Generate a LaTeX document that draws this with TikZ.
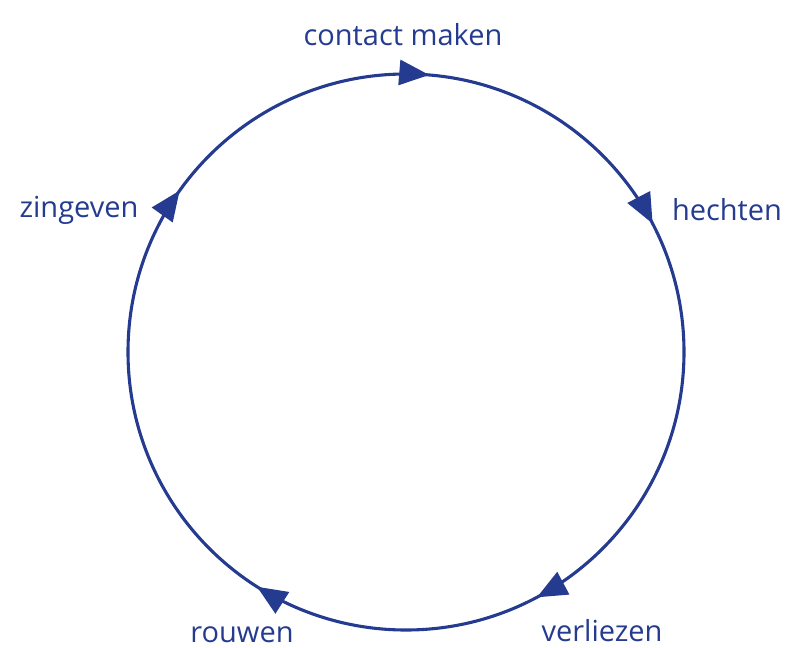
\documentclass[tikz,border=0pt]{standalone}
\usepackage{fontspec}
\setmainfont{Open Sans}
\usetikzlibrary{arrows.meta,decorations.markings}
\definecolor{cycleblue}{RGB}{36,59,143}
\begin{document}
\begin{tikzpicture}[x=1pt,y=-1pt,
  lbl/.style={text=cycleblue,font=\fontsize{29}{34}\selectfont,anchor=base,inner sep=0pt},
  tipmark/.style={postaction={decorate},decoration={markings,
    mark=at position 0.0133 with {\arrow{Triangle[length=30pt,width=25pt]}},
    mark=at position 0.1736 with {\arrow{Triangle[length=30pt,width=25pt]}},
    mark=at position 0.422 with {\arrow{Triangle[length=30pt,width=25pt]}},
    mark=at position 0.59 with {\arrow{Triangle[length=30pt,width=25pt]}},
    mark=at position 0.8486 with {\arrow{Triangle[length=30pt,width=25pt]}}}}]
\useasboundingbox (0,0) rectangle (785,648);
\coordinate (c) at (406,352);
\coordinate (top) at (406,74);
\draw[cycleblue,line width=3.1pt,tipmark] (top) arc[start angle=90,end angle=-270,radius=278pt];
\node[lbl] (contact) at (403,45) {contact maken};
\node[lbl] (hechten) at (727,220) {hechten};
\node[lbl] (zingeven) at (79,217) {zingeven};
\node[lbl] (verliezen) at (602,641) {verliezen};
\node[lbl] (rouwen) at (242,642) {rouwen};
\end{tikzpicture}
\end{document}
